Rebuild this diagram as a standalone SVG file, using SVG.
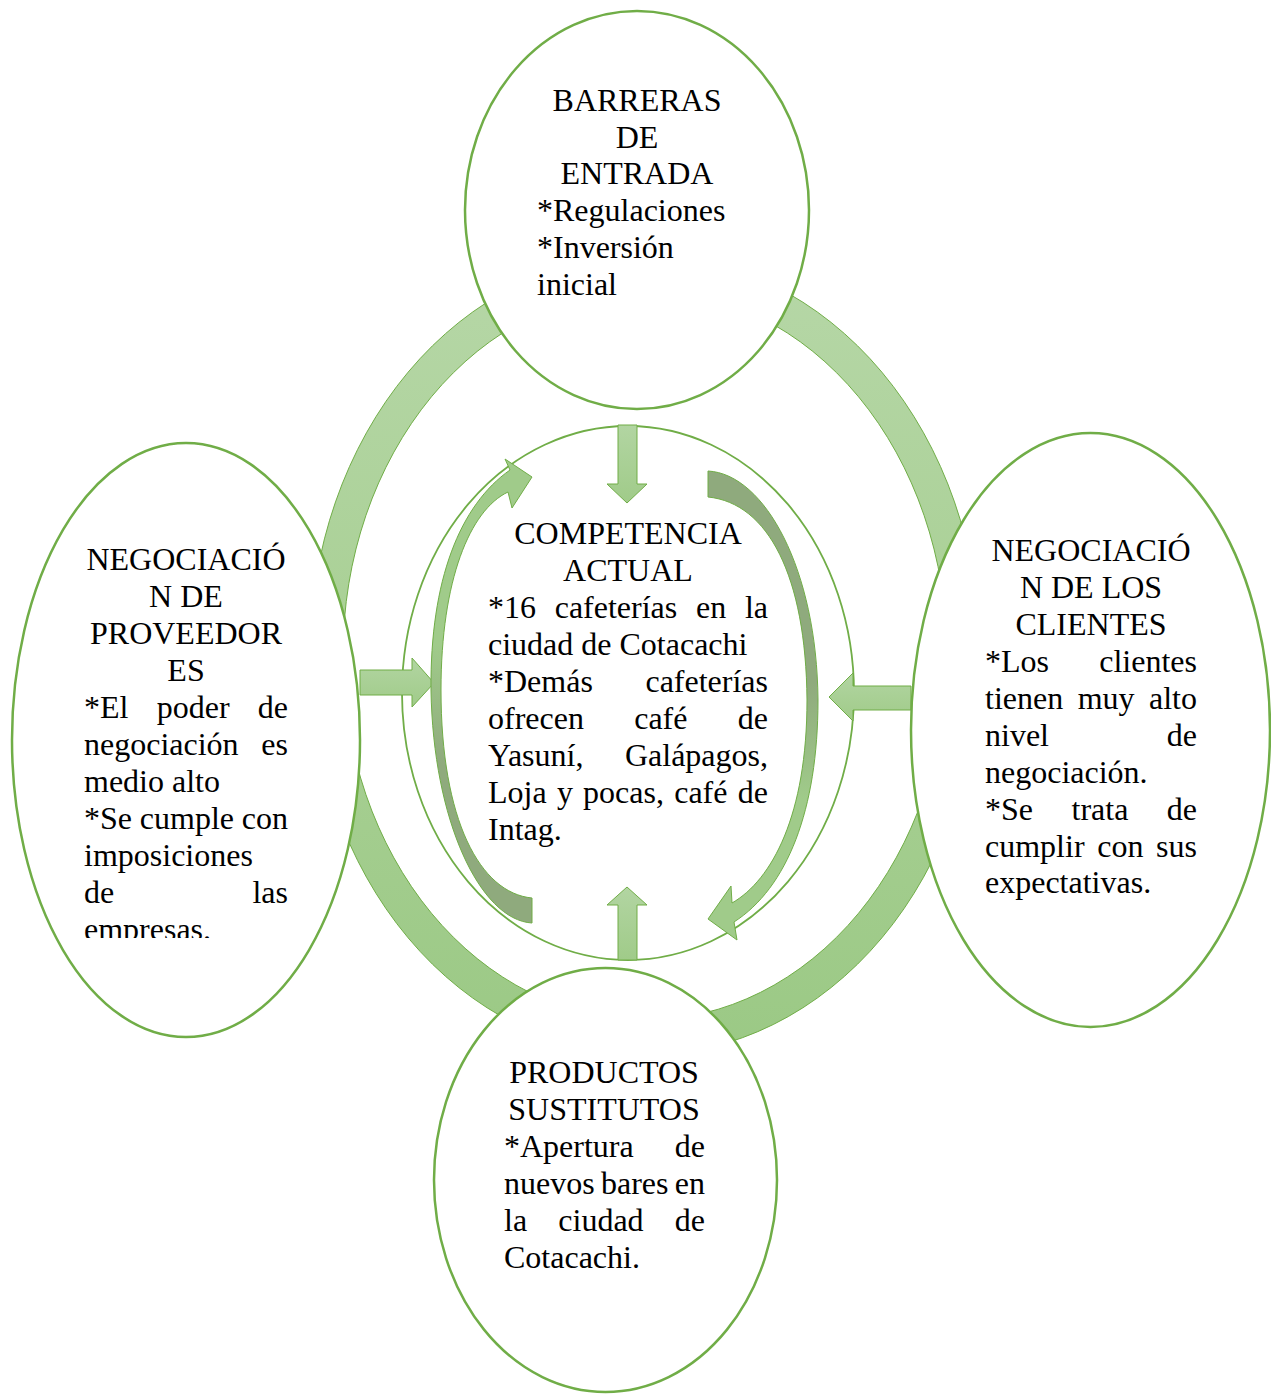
<svg xmlns="http://www.w3.org/2000/svg" width="1271" height="1394" viewBox="0 0 1271 1394">
<defs>
  <linearGradient id="ringGrad" gradientUnits="userSpaceOnUse" x1="0" y1="255" x2="0" y2="1055">
    <stop offset="0" stop-color="#b6d7a7"/>
    <stop offset="0.5" stop-color="#a9d095"/>
    <stop offset="1" stop-color="#9bc985"/>
  </linearGradient>
  <linearGradient id="straightGrad" x1="0" y1="0" x2="0" y2="1">
    <stop offset="0" stop-color="#b2d5a2"/>
    <stop offset="1" stop-color="#a0cb89"/>
  </linearGradient>
  <linearGradient id="curveL" x1="0" y1="0" x2="0" y2="1">
    <stop offset="0" stop-color="#a0cb8a"/>
    <stop offset="0.4" stop-color="#a0cb8a"/>
    <stop offset="0.66" stop-color="#8faa7d"/>
    <stop offset="1" stop-color="#8faa7d"/>
  </linearGradient>
  <linearGradient id="curveR" x1="0" y1="0" x2="0" y2="1">
    <stop offset="0" stop-color="#8faa7d"/>
    <stop offset="0.45" stop-color="#8faa7d"/>
    <stop offset="0.7" stop-color="#a0cb8a"/>
    <stop offset="1" stop-color="#a0cb8a"/>
  </linearGradient>
  <clipPath id="clipProv">
    <rect x="0" y="400" width="400" height="538"/>
  </clipPath>
</defs>
<style>
  .node { fill: #ffffff; stroke: #70ad47; stroke-width: 2.5; }
  .inner { fill: #ffffff; stroke: #70ad47; stroke-width: 1.8; }
  .t { font-family: "Liberation Serif", "Times New Roman", serif; font-size: 32px; fill: #000000; }
  .c { text-anchor: middle; }
  .e { text-anchor: end; }
  .ring { fill: url(#ringGrad); fill-rule: evenodd; stroke: #70ad47; stroke-width: 1; }
  .sarrow { fill: url(#straightGrad); stroke: #70ad47; stroke-width: 1; }
  .carrowL { fill: url(#curveL); stroke: #70ad47; stroke-width: 1; }
  .carrowR { fill: url(#curveR); stroke: #70ad47; stroke-width: 1; }
</style>

<!-- Center node (drawn first so arrows sit on top of its fill) -->
<g id="node-competencia">
  <ellipse class="inner" cx="628" cy="693" rx="226" ry="267"/>
  <text class="t c" x="628" y="544">COMPETENCIA</text>
  <text class="t c" x="628" y="581">ACTUAL</text>
  <text class="t" y="618"><tspan x="488">*16</tspan><tspan x="554.7">cafeterías</tspan><tspan x="696">en</tspan><tspan x="768" class="e">la</tspan></text>
  <text class="t" x="488" y="655">ciudad de Cotacachi</text>
  <text class="t" y="692"><tspan x="488">*Demás</tspan><tspan x="768" class="e">cafeterías</tspan></text>
  <text class="t" y="729"><tspan x="488">ofrecen</tspan><tspan x="634.2">café</tspan><tspan x="768" class="e">de</tspan></text>
  <text class="t" y="766"><tspan x="488">Yasuní,</tspan><tspan x="768" class="e">Galápagos,</tspan></text>
  <text class="t" y="803"><tspan x="488">Loja</tspan><tspan x="556.9">y</tspan><tspan x="583.1">pocas,</tspan><tspan x="674.2">café</tspan><tspan x="768" class="e">de</tspan></text>
  <text class="t" x="488" y="840">Intag.</text>
</g>

<g id="connectors">
  <!-- outer cycle ring -->
  <path class="ring" d="M 310 655 A 335 400 0 1 0 980 655 A 335 400 0 1 0 310 655 Z M 343 655 A 302 365 0 1 0 947 655 A 302 365 0 1 0 343 655 Z"/>
  <!-- straight arrows into the center -->
  <path class="sarrow" d="M 618 425 L 637 425 L 637 484 L 647 484 L 627 503 L 607 484 L 618 484 Z"/>
  <path class="sarrow" d="M 618 960 L 637 960 L 637 905 L 647 905 L 627 887 L 607 905 L 618 905 Z"/>
  <path class="sarrow" d="M 360 670 L 412 670 L 412 658 L 434 683 L 412 707 L 412 695 L 360 695 Z"/>
  <path class="sarrow" d="M 911 686 L 853 686 L 853 673 L 829 697 L 853 721 L 853 710 L 911 710 Z"/>
  <!-- curved arrows inside the center -->
  <path class="carrowL" d="M 532 923 C 480 920 433 820 431 690 C 430 580 460 505 510 470 L 505 459 L 532 477 L 512 508 L 508 492 C 470 510 441 580 441 690 C 441 820 480 893 532 898 Z"/>
  <path class="carrowR" d="M 708 471 C 765 474 817 570 818 700 C 818 810 787 888 734 922 L 737 940 L 708 919 L 731 886 L 732 903 C 772 880 807 815 807 700 C 806 576 768 503 708 497 Z"/>
</g>

<g id="node-barreras">
  <ellipse class="node" cx="637" cy="210" rx="172" ry="199"/>
  <text class="t c" x="637" y="111">BARRERAS</text>
  <text class="t c" x="637" y="148">DE</text>
  <text class="t c" x="637" y="184">ENTRADA</text>
  <text class="t" x="537" y="221">*Regulaciones</text>
  <text class="t" x="537" y="258">*Inversión</text>
  <text class="t" x="537" y="295">inicial</text>
</g>

<g id="node-proveedores">
  <ellipse class="node" cx="186" cy="740" rx="174" ry="297"/>
  <text class="t c" x="186" y="570">NEGOCIACIÓ</text>
  <text class="t c" x="186" y="607">N DE</text>
  <text class="t c" x="186" y="644">PROVEEDOR</text>
  <text class="t c" x="186" y="681">ES</text>
  <text class="t" y="718"><tspan x="84">*El</tspan><tspan x="156.7">poder</tspan><tspan x="288" class="e">de</tspan></text>
  <text class="t" y="755"><tspan x="84">negociación</tspan><tspan x="288" class="e">es</tspan></text>
  <text class="t" x="84" y="792">medio alto</text>
  <text class="t" y="829"><tspan x="84">*Se</tspan><tspan x="139.8">cumple</tspan><tspan x="288" class="e">con</tspan></text>
  <text class="t" x="84" y="866">imposiciones</text>
  <text class="t" y="903"><tspan x="84">de</tspan><tspan x="288" class="e">las</tspan></text>
  <text class="t" x="84" y="940" clip-path="url(#clipProv)">empresas.</text>
</g>

<g id="node-clientes">
  <ellipse class="node" cx="1090.5" cy="730" rx="179.5" ry="297"/>
  <text class="t c" x="1091" y="561">NEGOCIACIÓ</text>
  <text class="t c" x="1091" y="598">N DE LOS</text>
  <text class="t c" x="1091" y="635">CLIENTES</text>
  <text class="t" y="672"><tspan x="985">*Los</tspan><tspan x="1197" class="e">clientes</tspan></text>
  <text class="t" y="709"><tspan x="985">tienen</tspan><tspan x="1077.7">muy</tspan><tspan x="1197" class="e">alto</tspan></text>
  <text class="t" y="746"><tspan x="985">nivel</tspan><tspan x="1197" class="e">de</tspan></text>
  <text class="t" x="985" y="783">negociación.</text>
  <text class="t" y="820"><tspan x="985">*Se</tspan><tspan x="1071.5">trata</tspan><tspan x="1197" class="e">de</tspan></text>
  <text class="t" y="857"><tspan x="985">cumplir</tspan><tspan x="1097.2">con</tspan><tspan x="1197" class="e">sus</tspan></text>
  <text class="t" x="985" y="893">expectativas.</text>
</g>

<g id="node-productos">
  <ellipse class="node" cx="605.5" cy="1180" rx="171.5" ry="212"/>
  <text class="t c" x="604" y="1083">PRODUCTOS</text>
  <text class="t c" x="604" y="1120">SUSTITUTOS</text>
  <text class="t" y="1157"><tspan x="504">*Apertura</tspan><tspan x="705" class="e">de</tspan></text>
  <text class="t" y="1194"><tspan x="504">nuevos</tspan><tspan x="601">bares</tspan><tspan x="705" class="e">en</tspan></text>
  <text class="t" y="1231"><tspan x="504">la</tspan><tspan x="558.3">ciudad</tspan><tspan x="705" class="e">de</tspan></text>
  <text class="t" x="504" y="1268">Cotacachi.</text>
</g>
</svg>
